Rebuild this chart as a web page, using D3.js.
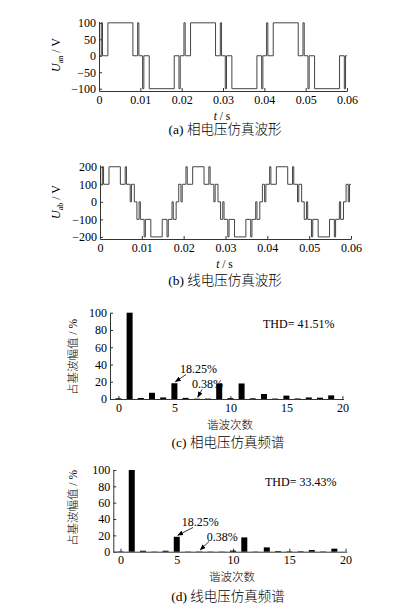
<!DOCTYPE html>
<html>
<head>
<meta charset="utf-8">
<script src="https://cdn.jsdelivr.net/npm/d3@7"></script>
<style>
  body { margin: 0; background: #fff; }
  svg { display: block; }
  .tick text, .lbl { font-family: "Liberation Serif", "Times New Roman", serif; fill: #000; }
  .cjk { font-family: "Liberation Serif", "Noto Sans CJK SC", serif; fill: #000; font-weight: 300; }
</style>
</head>
<body>
<div id="chart"></div>
<script>
// step waveforms: [time in ms, level from that time on]
var phaseWave = [
  [0,0],[0.55,100],[0.85,0],[2.15,100],[8.2,0],[9.35,100],[9.65,0],
  [10.55,-100],[10.85,0],[12.15,-100],[18.2,0],[19.35,-100],[19.65,0],
  [20.55,100],[20.85,0],[22.15,100],[28.2,0],[29.35,100],[29.65,0],
  [30.55,-100],[30.85,0],[32.15,-100],[38.2,0],[39.35,-100],[39.65,0],
  [40.55,100],[40.85,0],[42.15,100],[48.2,0],[49.35,100],[49.65,0],
  [50.55,-100],[50.85,0],[52.15,-100],[58.2,0],[59.35,-100],[59.65,0],[60,0]
];
var lineWave = [
  [0,100],[0.55,200],[0.85,100],[2.15,200],[4.87,100],[6.02,200],[6.32,100],[7.22,0],[7.52,100],
  [8.2,0],[8.82,-100],[9.35,0],[9.65,-100],[10.55,-200],[10.85,-100],[12.15,-200],[14.87,-100],
  [16.02,-200],[16.32,-100],[17.22,0],[17.52,-100],[18.2,0],[18.82,100],[19.35,0],[19.65,100],
  [20.55,200],[20.85,100],[22.15,200],[24.87,100],[26.02,200],[26.32,100],[27.22,0],[27.52,100],
  [28.2,0],[28.82,-100],[29.35,0],[29.65,-100],[30.55,-200],[30.85,-100],[32.15,-200],[34.87,-100],
  [36.02,-200],[36.32,-100],[37.22,0],[37.52,-100],[38.2,0],[38.82,100],[39.35,0],[39.65,100],
  [40.55,200],[40.85,100],[42.15,200],[44.87,100],[46.02,200],[46.32,100],[47.22,0],[47.52,100],
  [48.2,0],[48.82,-100],[49.35,0],[49.65,-100],[50.55,-200],[50.85,-100],[52.15,-200],[54.87,-100],
  [56.02,-200],[56.32,-100],[57.22,0],[57.52,-100],[58.2,0],[58.82,100],[59.35,0],[59.65,100],[60,100]
];
var timeTicks = [0, 0.01, 0.02, 0.03, 0.04, 0.05, 0.06];
var phaseTicks = [-100, -50, 0, 50, 100];
var lineTicks = [-200, -100, 0, 100, 200];

// harmonic spectra, % of fundamental
var harmonicOrders = [0,1,2,3,4,5,6,7,8,9,10,11,12,13,14,15,16,17,18,19];
var phaseSpectrum = [0.8,100,1.2,7.2,1.8,18.25,1.3,0.38,0.5,18,1,18,0.8,5.8,0.5,3.9,0.6,1.8,1.5,4.2];
var lineSpectrum  = [0.5,100,1.2,0.3,1.2,18.25,0.3,0.38,0.3,0.3,1.4,17.5,0.3,5.3,0.8,0.5,0.6,2,0.4,3.7];
var harmonicTicks = [0, 5, 10, 15, 20];
var percentTicks = [0, 20, 40, 60, 80, 100];
var annotOrders = [5, 7];
var annotLabels = ["18.25%", "0.38%"];
var thdLabels = ["THD= 41.51%", "THD= 33.43%"];
var captions = ["(a)  相电压仿真波形", "(b)  线电压仿真波形", "(c)  相电压仿真频谱", "(d)  线电压仿真频谱"];

var svg = d3.select("#chart").append("svg")
  .attr("width", 399).attr("height", 610);
svg.append("rect").attr("width", 399).attr("height", 610).attr("fill", "#fff");

svg.append("defs").append("marker")
  .attr("id", "arrow")
  .attr("viewBox", "0 0 10 10")
  .attr("refX", 9).attr("refY", 5)
  .attr("markerWidth", 6).attr("markerHeight", 6)
  .attr("markerUnits", "userSpaceOnUse")
  .attr("orient", "auto")
  .append("path").attr("d", "M0,1L10,5L0,9Z").attr("fill", "#000");

function styleAxis(g){
  g.selectAll(".domain, .tick line").attr("stroke", "#333");
  g.selectAll(".tick text").attr("font-size", "12px");
}

function drawWave(data, o){
  var x = d3.scaleLinear().domain([0, 0.06]).range([o.x0, o.x1]);
  var y = d3.scaleLinear().domain(o.yDomain).range([o.yBottom, o.yTop]);
  svg.append("g").attr("transform", "translate(0," + o.yBottom + ")")
    .call(d3.axisBottom(x).tickValues(timeTicks).tickSize(-3).tickSizeOuter(0).tickPadding(4)
      .tickFormat(function(d){ return d === 0 ? "0" : d.toFixed(2); }))
    .call(styleAxis);
  svg.append("g").attr("transform", "translate(" + o.x0 + ",0)")
    .call(d3.axisLeft(y).tickValues(o.ticks).tickSize(-3).tickSizeOuter(0).tickPadding(3))
    .call(styleAxis);

  var line = d3.line()
    .x(function(d){ return x(d[0] / 1000); })
    .y(function(d){ return y(d[1]); })
    .curve(d3.curveStepAfter);
  svg.append("path").datum(data)
    .attr("d", line)
    .attr("fill", "none")
    .attr("stroke", "#444")
    .attr("stroke-width", 1);

  var yl = svg.append("text").attr("class", "lbl")
    .attr("transform", "translate(" + o.ylx + "," + o.yly + ") rotate(-90)")
    .attr("text-anchor", "middle").attr("font-size", "12px");
  yl.append("tspan").attr("font-style", "italic").text("U");
  yl.append("tspan").attr("font-size", "8px").attr("dy", 3).text(o.sub);
  yl.append("tspan").attr("dy", -3).text(" / V");

  var xl = svg.append("text").attr("class", "lbl")
    .attr("x", (o.x0 + o.x1) / 2 - 1).attr("y", o.xly)
    .attr("text-anchor", "middle").attr("font-size", "11.5px");
  xl.append("tspan").attr("font-style", "italic").text("t");
  xl.append("tspan").text(" / s");

  svg.append("text").attr("class", "cjk")
    .attr("x", 225).attr("y", o.capy)
    .attr("text-anchor", "middle").attr("font-size", "13.5px")
    .text(o.caption);
}

function drawSpectrum(values, o){
  var x = d3.scaleLinear().domain([o.xmin, o.xmax]).range([o.x0, o.x1]);
  var y = d3.scaleLinear().domain([0, 100]).range([o.yBottom, o.yTop]);
  svg.append("g").attr("transform", "translate(0," + o.yBottom + ")")
    .call(d3.axisBottom(x).tickValues(harmonicTicks).tickSize(-3).tickSizeOuter(0).tickPadding(4))
    .call(styleAxis);
  svg.append("g").attr("transform", "translate(" + o.x0 + ",0)")
    .call(d3.axisLeft(y).tickValues(percentTicks).tickSize(-3).tickSizeOuter(0).tickPadding(3))
    .call(styleAxis);

  svg.append("g").selectAll("rect")
    .data(harmonicOrders)
    .enter().append("rect")
    .attr("x", function(h){ return x(h) - 3; })
    .attr("width", 6)
    .attr("y", function(h){ return y(values[h]); })
    .attr("height", function(h){ return y(0) - y(values[h]); })
    .attr("fill", "#000");

  annotOrders.forEach(function(h, i){
    var a = o.annot[i];
    svg.append("text").attr("class", "lbl")
      .attr("x", a.tx).attr("y", a.ty).attr("font-size", "12px")
      .text(annotLabels[i]);
    svg.append("line")
      .attr("x1", a.lx).attr("y1", a.ly)
      .attr("x2", x(h) + 1).attr("y2", y(values[h]) - 1.5)
      .attr("stroke", "#000").attr("stroke-width", 0.8)
      .attr("marker-end", "url(#arrow)");
  });

  svg.append("text").attr("class", "lbl")
    .attr("x", o.thdx).attr("y", o.thdy).attr("font-size", "12px")
    .text(thdLabels[o.idx]);

  svg.append("text").attr("class", "cjk")
    .attr("transform", "translate(" + o.ylx + "," + o.yly + ") rotate(-90)")
    .attr("text-anchor", "middle").attr("font-size", "11.5px")
    .text("占基波幅值 / %");
  svg.append("text").attr("class", "cjk")
    .attr("x", o.xlx).attr("y", o.xly)
    .attr("text-anchor", "middle").attr("font-size", "11.5px")
    .text("谐波次数");
  svg.append("text").attr("class", "cjk")
    .attr("x", 228).attr("y", o.capy)
    .attr("text-anchor", "middle").attr("font-size", "13.5px")
    .text(captions[o.idx + 2]);
}

drawWave(phaseWave, {x0: 99, x1: 347, yBottom: 91, yTop: 21.5, yDomain: [-107, 104],
  ticks: phaseTicks, sub: "an", ylx: 60, yly: 55, xly: 119.5, capy: 134, caption: captions[0]});
drawWave(lineWave, {x0: 100, x1: 351, yBottom: 239, yTop: 165, yDomain: [-212, 210],
  ticks: lineTicks, sub: "ab", ylx: 60, yly: 202, xly: 268, capy: 285, caption: captions[1]});

drawSpectrum(phaseSpectrum, {idx: 0, x0: 110, x1: 343.5, xmin: -0.75, xmax: 20.1,
  yBottom: 399, yTop: 312.7, ylx: 77, yly: 357, xlx: 230, xly: 429, capy: 447,
  thdx: 263, thdy: 328,
  annot: [{tx: 180, ty: 373, lx: 186, ly: 374.5}, {tx: 192, ty: 388, lx: 202, ly: 389.5}]});
drawSpectrum(lineSpectrum, {idx: 1, x0: 113.3, x1: 346.7, xmin: -0.64, xmax: 20.1,
  yBottom: 551.7, yTop: 470, ylx: 77, yly: 508, xlx: 232, xly: 581, capy: 601,
  thdx: 265, thdy: 486,
  annot: [{tx: 181.7, ty: 526, lx: 193, ly: 527.5}, {tx: 206.7, ty: 540.5, lx: 209, ly: 541.5}]});
</script>
</body>
</html>
